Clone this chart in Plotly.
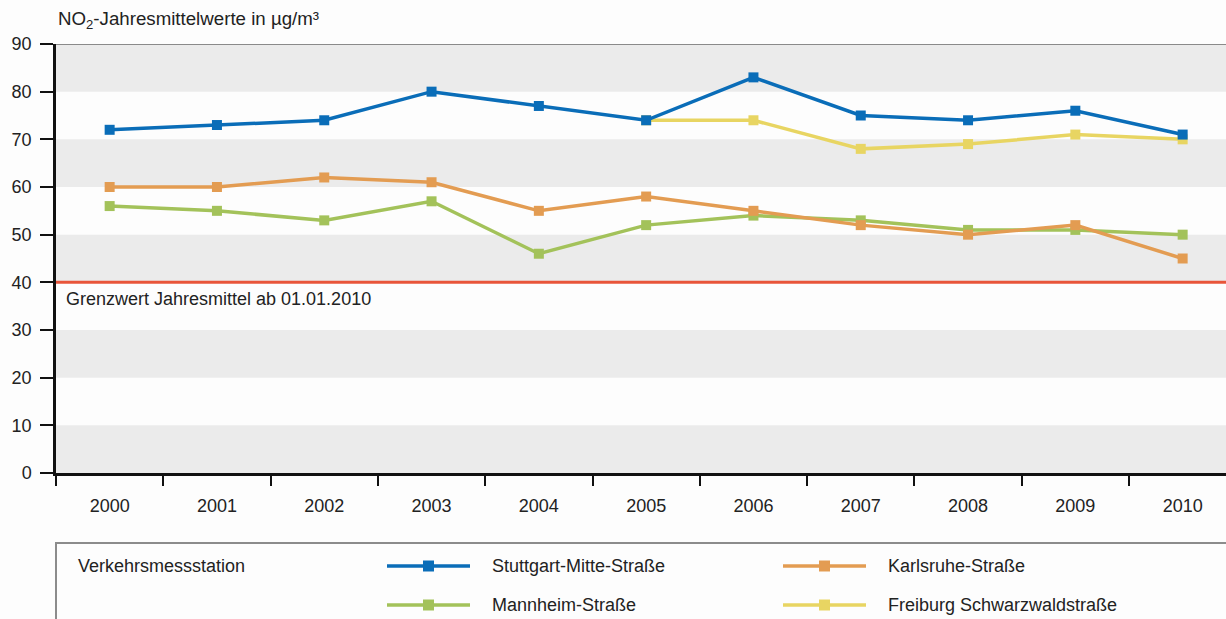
import plotly.graph_objects as go

years = ["2000", "2001", "2002", "2003", "2004", "2005", "2006", "2007", "2008", "2009", "2010"]
stuttgart = [72, 73, 74, 80, 77, 74, 83, 75, 74, 76, 71]
karlsruhe = [60, 60, 62, 61, 55, 58, 55, 52, 50, 52, 45]
mannheim = [56, 55, 53, 57, 46, 52, 54, 53, 51, 51, 50]
freiburg_years = ["2005", "2006", "2007", "2008", "2009", "2010"]
freiburg = [74, 74, 68, 69, 71, 70]
limit_value = 40
y_ticks = [0, 10, 20, 30, 40, 50, 60, 70, 80, 90]

names = ["Stuttgart-Mitte-Straße", "Karlsruhe-Straße", "Mannheim-Straße", "Freiburg Schwarzwaldstraße"]
colors = ["#0a6db8", "#e39c52", "#a3c25a", "#e8d562"]

W, H = 1226, 619
ML, MT = 56, 44
PW, PH = W - ML, H - MT
FONT = "Liberation Sans, Arial, sans-serif"
FS = 18

def px_x(p):
    return (p - ML) / PW

def px_y(p):
    return (H - p) / PH

fig = go.Figure()

series = [(years, stuttgart), (years, karlsruhe), (years, mannheim), (freiburg_years, freiburg)]
draw_order = [3, 2, 1, 0]
for i in draw_order:
    xs, ys = series[i]
    fig.add_trace(go.Scatter(
        x=xs, y=ys, mode="lines+markers", name=names[i],
        line=dict(color=colors[i], width=3.5),
        marker=dict(symbol="square", size=10, color=colors[i]),
        showlegend=False, xaxis="x", yaxis="y",
    ))

# legend samples on a pixel-scaled helper axis
leg_pos = [(387, 566), (783, 566), (387, 605), (783, 605)]
for i, (lx, ly) in enumerate(leg_pos):
    fig.add_trace(go.Scatter(
        x=[lx, lx + 41.5, lx + 83], y=[ly, ly, ly], mode="lines",
        line=dict(color=colors[i], width=3.5), showlegend=False,
        xaxis="x2", yaxis="y2", hoverinfo="skip",
    ))
    fig.add_trace(go.Scatter(
        x=[lx + 41.5], y=[ly], mode="markers",
        marker=dict(symbol="square", size=11, color=colors[i]), showlegend=False,
        xaxis="x2", yaxis="y2", hoverinfo="skip",
    ))

shapes = []
for lo in range(0, 90, 20):
    shapes.append(dict(type="rect", xref="paper", yref="y", x0=0, x1=1, y0=lo, y1=lo + 10,
                       fillcolor="#ebebeb", line=dict(width=0), layer="below"))
shapes.append(dict(type="line", xref="paper", yref="y", x0=0, x1=1, y0=90, y1=90,
                   line=dict(color="#8a8a8a", width=2)))
shapes.append(dict(type="line", xref="paper", yref="y", x0=0, x1=1, y0=limit_value, y1=limit_value,
                   line=dict(color="#e8553a", width=3)))
shapes.append(dict(type="rect", xref="paper", yref="paper", x0=0, x1=1.05,
                   y0=px_y(660), y1=px_y(543), line=dict(color="#8c8c8c", width=2),
                   fillcolor="rgba(0,0,0,0)"))

annotations = [
    dict(text="NO<sub>2</sub>-Jahresmittelwerte in µg/m³", xref="paper", yref="paper",
         x=0, y=px_y(20), xanchor="left", yanchor="middle", showarrow=False,
         font=dict(size=18.7, color="#222", family=FONT)),
    dict(text="Grenzwert Jahresmittel ab 01.01.2010", xref="paper", yref="paper",
         x=px_x(64), y=px_y(299), xanchor="left", yanchor="middle", showarrow=False,
         font=dict(size=FS, color="#222", family=FONT)),
    dict(text="Verkehrsmessstation", xref="paper", yref="paper",
         x=px_x(76), y=px_y(566), xanchor="left", yanchor="middle", showarrow=False,
         font=dict(size=FS, color="#222", family=FONT)),
]
for i, (lx, ly) in enumerate(leg_pos):
    annotations.append(dict(text=names[i], xref="paper", yref="paper",
                            x=px_x(lx + 103), y=px_y(ly), xanchor="left", yanchor="middle",
                            showarrow=False, font=dict(size=FS, color="#222", family=FONT)))

step = 107.3
xmax = 10.5 - (ML + 11 * step - W) / step

fig.update_layout(
    width=W, height=H,
    margin=dict(l=ML, r=0, t=MT, b=0, autoexpand=False),
    paper_bgcolor="#fdfdfd", plot_bgcolor="#fdfdfd",
    font=dict(family=FONT, size=FS, color="#222"),
    shapes=shapes, annotations=annotations,
    xaxis=dict(type="category", categoryorder="array", categoryarray=years,
               range=[-0.5, xmax], tickson="boundaries", ticks="outside", ticklen=10,
               tickwidth=2, tickcolor="#111", showline=True, linecolor="#111", linewidth=2.5,
               showgrid=False, zeroline=False, ticklabelstandoff=15, automargin=False,
               tickfont=dict(size=FS, color="#222"), anchor="y", fixedrange=True),
    yaxis=dict(range=[0, 90], domain=[px_y(473), 1], tickvals=y_ticks, ticks="outside",
               ticklen=13, tickwidth=2, tickcolor="#111", showline=True, linecolor="#111",
               linewidth=2.5, showgrid=False, zeroline=False, ticklabelstandoff=5,
               automargin=False,
               tickfont=dict(size=FS, color="#222"), anchor="x", fixedrange=True),
    xaxis2=dict(range=[ML, W], domain=[0, 1], visible=False, anchor="y2", fixedrange=True,
                automargin=False),
    yaxis2=dict(range=[H, 543], domain=[0, px_y(543)], visible=False, anchor="x2",
                fixedrange=True, automargin=False),
)

fig.write_html("out.html", config={"displayModeBar": False},
               post_script="document.body.style.margin='0';document.body.style.overflow='hidden';")
